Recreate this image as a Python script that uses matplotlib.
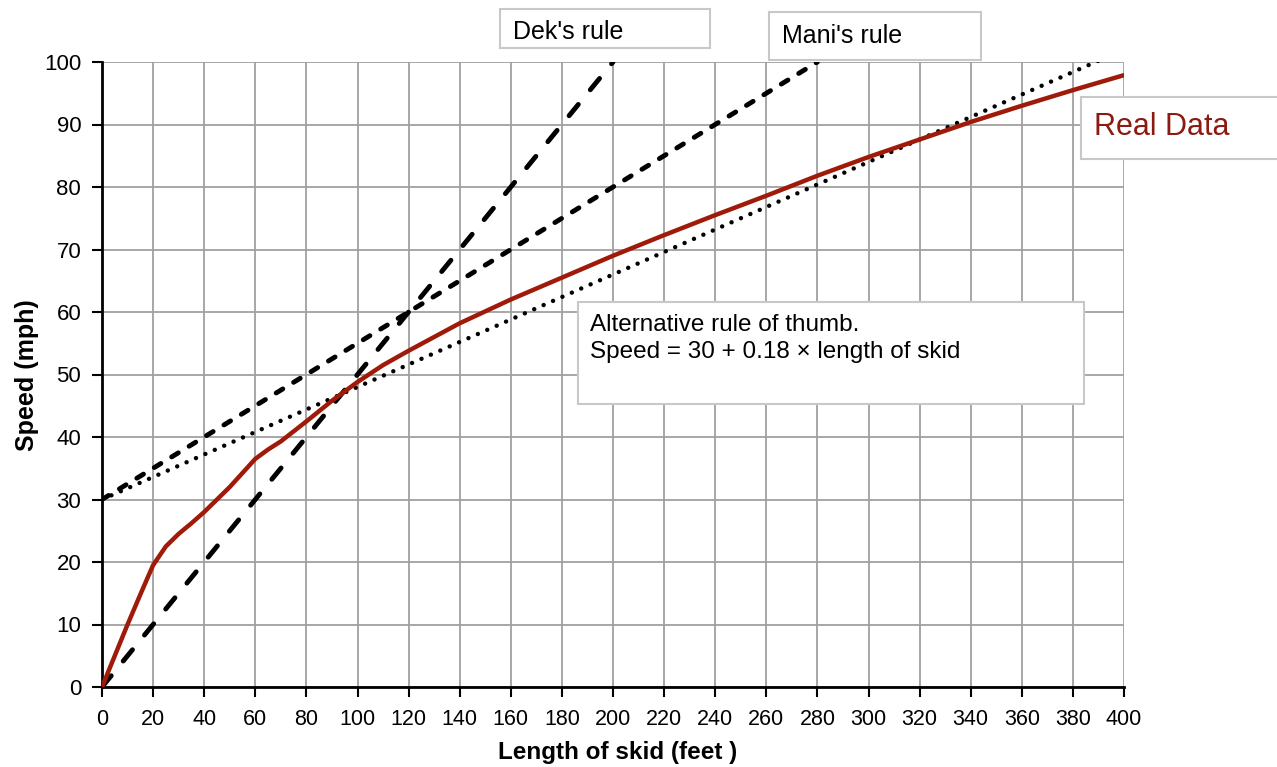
import matplotlib
matplotlib.use("Agg")
import matplotlib.pyplot as plt
from matplotlib.patches import Rectangle

# skid length (feet) vs speed (mph)
real_x = [0, 5, 10, 15, 20, 25, 30, 35, 40, 50, 60, 65, 70, 80, 90, 100,
          110, 120, 140, 160, 180, 200, 220, 240, 260, 280, 300, 320, 340,
          360, 380, 400]
real_y = [0, 5, 10, 14.8, 19.5, 22.5, 24.5, 26.2, 28, 32, 36.5, 38, 39.3,
          42.5, 45.8, 48.8, 51.5, 53.8, 58.2, 62, 65.5, 69, 72.3, 75.5, 78.6,
          81.8, 84.8, 87.6, 90.4, 93, 95.5, 97.9]

dek_x = [0, 200]
dek_y = [0, 100]
mani_x = [0, 280]
mani_y = [30, 100]
alt_x = [0, 400]
alt_y = [30, 102]

x_ticks = list(range(0, 401, 20))
y_ticks = list(range(0, 101, 10))

plt.rcParams['font.family'] = ['Liberation Sans', 'DejaVu Sans']

fig = plt.figure(figsize=(12.77, 7.67), dpi=100)
ax = fig.add_axes([102 / 1277, 1 - 687 / 767, 1022 / 1277, 625 / 767])

ax.plot(alt_x, alt_y, color='black', lw=3.2, linestyle=(0, (0.01, 2.3)),
        dash_capstyle='round', zorder=3)
ax.plot(mani_x, mani_y, color='black', lw=3.5, linestyle=(0, (1.6, 2.6)),
        dash_capstyle='round', zorder=3)
ax.plot(dek_x, dek_y, color='black', lw=3.5, linestyle=(0, (3.0, 3.9)),
        dash_capstyle='round', zorder=3)
ax.plot(real_x, real_y, color='#a01a0a', lw=3.2, solid_joinstyle='round',
        solid_capstyle='round', zorder=4)

ax.set_xlim(0, 400)
ax.set_ylim(0, 100)
ax.set_xticks(x_ticks)
ax.set_yticks(y_ticks)
ax.grid(True, color='#a0a0a0', lw=1.3)
ax.set_axisbelow(True)
for s in ['top', 'right']:
    ax.spines[s].set_visible(False)
for s in ['left', 'bottom']:
    ax.spines[s].set_linewidth(2)
ax.tick_params(axis='both', direction='out', length=7, width=1.5, labelsize=16)
ax.tick_params(axis='y', pad=8)
ax.tick_params(axis='x', pad=9, labelsize=15.5)

fig.text(618 / 1277, 1 - 753 / 767, 'Length of skid (feet )', ha='center',
         va='center', fontsize=17.5, fontweight='bold')
fig.text(27 / 1277, 1 - 375 / 767, 'Speed (mph)', ha='center', va='center',
         rotation=90, fontsize=18, fontweight='bold')


def label_box(x0, y0, x1, y1, text, tx, ty, size=18, color='black',
              va='center'):
    fig.patches.append(Rectangle((x0 / 1277, 1 - y1 / 767), (x1 - x0) / 1277,
                                 (y1 - y0) / 767, transform=fig.transFigure,
                                 facecolor='white', edgecolor='#c8c8c8',
                                 lw=1.5, zorder=5))
    fig.text(tx / 1277, 1 - ty / 767, text, ha='left', va=va,
             fontsize=size, color=color, zorder=6, linespacing=1.3)


label_box(500, 9, 710, 48, "Dek's rule", 513, 32)
label_box(769, 12, 981, 60, "Mani's rule", 782, 36)
label_box(1081, 97, 1290, 159, "Real Data", 1094, 127, size=22,
          color='#8b1a10')
label_box(578, 302, 1084, 404, "Alternative rule of thumb.\nSpeed = 30 + 0.18 \u00d7 length of skid",
          590, 314, size=17.5, va='top')

fig.savefig('out.png', dpi=100)
